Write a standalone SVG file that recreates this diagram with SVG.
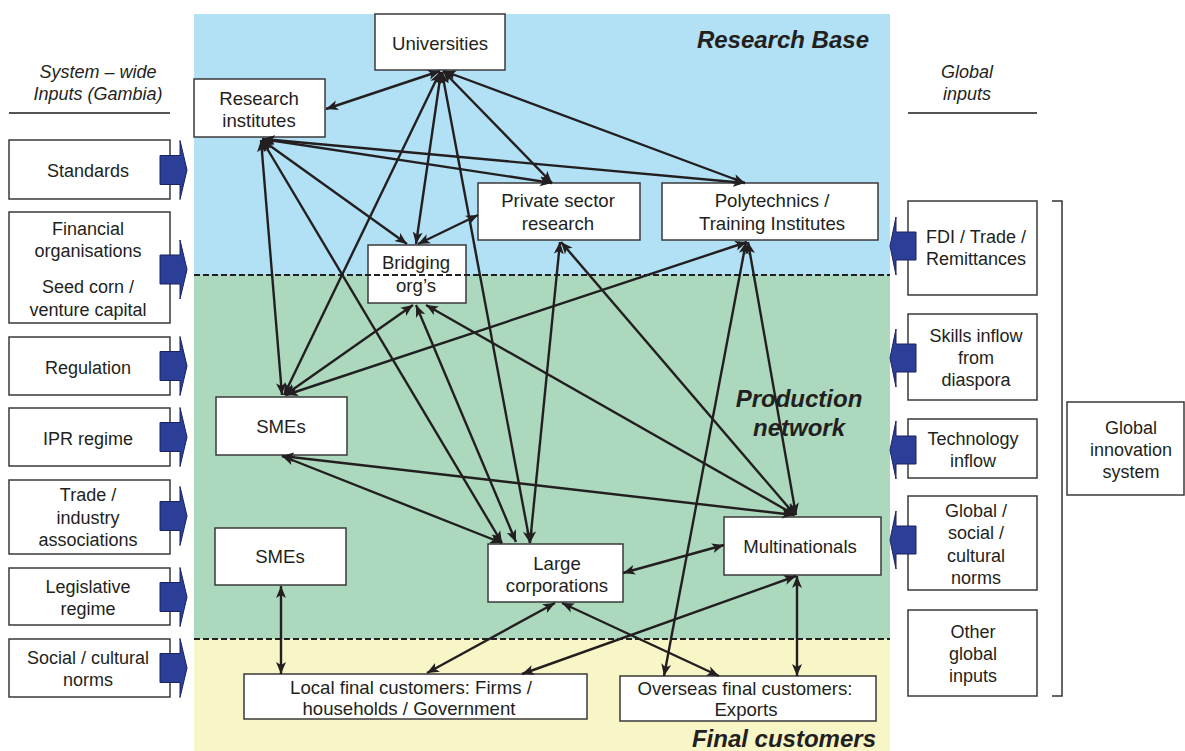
<svg xmlns="http://www.w3.org/2000/svg" width="1185" height="751" viewBox="0 0 1185 751">
<style>
text{font-family:"Liberation Sans",Arial,sans-serif;fill:#231f20;}
.t{font-size:18px;text-anchor:middle;}
#nodes .t{font-size:18.6px;}
.it{font-size:18px;font-style:italic;text-anchor:middle;}
.h{font-size:24px;font-style:italic;font-weight:bold;}
.box{fill:#fff;stroke:#3a3a3a;stroke-width:1.5;}
.blk{fill:#2b3f98;stroke:#1c2260;stroke-width:1;}
.c line{stroke:#231f20;stroke-width:2.4;marker-start:url(#ah);marker-end:url(#ah);}
.dash{stroke:#231f20;stroke-width:2;stroke-dasharray:6 3;}
</style>
<defs>
<marker id="ah" markerUnits="userSpaceOnUse" markerWidth="13" markerHeight="11" refX="12" refY="5" orient="auto-start-reverse" viewBox="0 0 13 10">
<path d="M0,0 L12,5 L0,10 L3,5 z" fill="#231f20"/>
</marker>
</defs>
<rect width="1185" height="751" fill="#fff"/>
<g id="bands">
<rect x="194" y="14" width="696" height="261" fill="#b2e1f6"/>
<rect x="194" y="275" width="696" height="364" fill="#acd9be"/>
<rect x="194" y="639" width="696" height="112" fill="#f8f6c7"/>
<text class="h" x="869" y="48" text-anchor="end">Research Base</text>
<text class="h" x="799" y="407" text-anchor="middle">Production</text>
<text class="h" x="799" y="436" text-anchor="middle">network</text>
<text class="h" x="876" y="747" text-anchor="end">Final customers</text>
</g>
<g id="headers">
<text class="it" x="98" y="78">System – wide</text>
<text class="it" x="98" y="100">Inputs (Gambia)</text>
<line x1="9" y1="113" x2="170" y2="113" stroke="#555" stroke-width="2"/>
<text class="it" x="967" y="78">Global</text>
<text class="it" x="967" y="100">inputs</text>
<line x1="908" y1="113" x2="1037" y2="113" stroke="#555" stroke-width="2"/>
</g>
<g id="left-inputs">
<g id="standards"><rect class="box" x="9" y="140" width="161" height="59"/><text class="t" x="88" y="177">Standards</text>
<polygon class="blk" points="160,155.5 180,155.5 180,140.5 187,170 180,199.5 180,184.5 160,184.5"/></g>
<g id="financial"><rect class="box" x="9" y="212" width="161" height="111"/><text class="t" x="88" y="235">Financial</text><text class="t" x="88" y="257">organisations</text><text class="t" x="88" y="293">Seed corn /</text><text class="t" x="88" y="316">venture capital</text>
<polygon class="blk" points="160,255 180,255 180,240 187,269.5 180,299 180,284 160,284"/></g>
<g id="regulation"><rect class="box" x="9" y="337" width="161" height="58"/><text class="t" x="88" y="374">Regulation</text>
<polygon class="blk" points="160,351.5 180,351.5 180,336.5 187,366 180,395.5 180,380.5 160,380.5"/></g>
<g id="ipr"><rect class="box" x="9" y="408" width="161" height="58"/><text class="t" x="88" y="445">IPR regime</text>
<polygon class="blk" points="160,422.5 180,422.5 180,407.5 187,437 180,466.5 180,451.5 160,451.5"/></g>
<g id="trade"><rect class="box" x="9" y="480" width="161" height="74"/><text class="t" x="88" y="501">Trade /</text><text class="t" x="88" y="524">industry</text><text class="t" x="88" y="546">associations</text>
<polygon class="blk" points="160,501.5 180,501.5 180,486.5 187,516 180,545.5 180,530.5 160,530.5"/></g>
<g id="legislative"><rect class="box" x="9" y="568" width="161" height="57"/><text class="t" x="88" y="593">Legislative</text><text class="t" x="88" y="615">regime</text>
<polygon class="blk" points="160,582.5 180,582.5 180,567.5 187,597 180,626.5 180,611.5 160,611.5"/></g>
<g id="social"><rect class="box" x="9" y="639" width="161" height="58"/><text class="t" x="88" y="664">Social / cultural</text><text class="t" x="88" y="686">norms</text>
<polygon class="blk" points="160,653.5 180,653.5 180,638.5 187,668 180,697.5 180,682.5 160,682.5"/></g>
</g>
<g id="right-inputs">
<g id="fdi"><rect class="box" x="908" y="201" width="129" height="94"/><text class="t" x="976" y="243">FDI / Trade /</text><text class="t" x="976" y="265">Remittances</text>
<polygon class="blk" points="916,232 896,232 896,217 890,246 896,275 896,260 916,260"/></g>
<g id="skills"><rect class="box" x="908" y="314" width="129" height="86"/><text class="t" x="976" y="342">Skills inflow</text><text class="t" x="976" y="364">from</text><text class="t" x="976" y="386">diaspora</text>
<polygon class="blk" points="916,344 896,344 896,329 890,358 896,387 896,372 916,372"/></g>
<g id="technology"><rect class="box" x="908" y="419" width="129" height="59"/><text class="t" x="973" y="445">Technology</text><text class="t" x="973" y="467">inflow</text>
<polygon class="blk" points="916,436 896,436 896,421 890,450 896,479 896,464 916,464"/></g>
<g id="global-norms"><rect class="box" x="908" y="496" width="129" height="94"/><text class="t" x="976" y="517">Global /</text><text class="t" x="976" y="539">social /</text><text class="t" x="976" y="562">cultural</text><text class="t" x="976" y="584">norms</text>
<polygon class="blk" points="916,526 896,526 896,511 890,540 896,569 896,554 916,554"/></g>
<g id="other"><rect class="box" x="908" y="610" width="129" height="86"/><text class="t" x="973" y="638">Other</text><text class="t" x="973" y="660">global</text><text class="t" x="973" y="682">inputs</text></g>
<path d="M1052,201 H1062 V696 H1052" fill="none" stroke="#333" stroke-width="1.5"/>
<g id="gis"><rect class="box" x="1067" y="402" width="117" height="93"/><text class="t" x="1131" y="434">Global</text><text class="t" x="1131" y="456">innovation</text><text class="t" x="1131" y="478">system</text></g>
</g>
<g id="nodes">
<g id="universities"><rect class="box" x="375" y="14" width="130" height="56"/><text class="t" x="440" y="50">Universities</text></g>
<g id="research-institutes"><rect class="box" x="194" y="79" width="131" height="58"/><text class="t" x="259" y="105">Research</text><text class="t" x="259" y="127">institutes</text></g>
<g id="private-sector"><rect class="box" x="478" y="183" width="162" height="57"/><text class="t" x="558" y="207">Private sector</text><text class="t" x="558" y="230">research</text></g>
<g id="polytechnics"><rect class="box" x="662" y="183" width="216" height="57"/><text class="t" x="772" y="207">Polytechnics /</text><text class="t" x="772" y="230">Training Institutes</text></g>
<g id="bridging"><rect class="box" x="368" y="245" width="98" height="58"/><text class="t" x="416" y="269">Bridging</text><text class="t" x="416" y="292">org’s</text></g>
<g id="smes-1"><rect class="box" x="216" y="397" width="131" height="58"/><text class="t" x="281" y="433">SMEs</text></g>
<g id="smes-2"><rect class="box" x="215" y="528" width="131" height="57"/><text class="t" x="280" y="563">SMEs</text></g>
<g id="large-corp"><rect class="box" x="488" y="544" width="135" height="58"/><text class="t" x="557" y="570">Large</text><text class="t" x="557" y="592">corporations</text></g>
<g id="multinationals"><rect class="box" x="724" y="517" width="157" height="58"/><text class="t" x="800" y="553">Multinationals</text></g>
<g id="local-customers"><rect class="box" x="244" y="674" width="343" height="45"/><text class="t" x="411" y="694">Local final customers: Firms /</text><text class="t" x="409" y="715">households / Government</text></g>
<g id="overseas-customers"><rect class="box" x="620" y="676" width="256" height="45"/><text class="t" x="745" y="695">Overseas final customers:</text><text class="t" x="746" y="716">Exports</text></g>
</g>
<g id="dividers">
<line class="dash" x1="194" y1="275" x2="890" y2="275"/>
<line class="dash" x1="194" y1="639" x2="890" y2="639"/>
</g>
<g id="connectors" class="c">
<line x1="440" y1="71" x2="326" y2="109"/>
<line x1="443" y1="71" x2="552" y2="183"/>
<line x1="444" y1="71" x2="745" y2="183"/>
<line x1="441" y1="72" x2="416" y2="244"/>
<line x1="440" y1="72" x2="284" y2="395"/>
<line x1="442" y1="72" x2="530" y2="543"/>
<line x1="262" y1="139" x2="552" y2="183"/>
<line x1="263" y1="139" x2="745" y2="183"/>
<line x1="262" y1="140" x2="407" y2="244"/>
<line x1="261" y1="140" x2="282" y2="395"/>
<line x1="262" y1="140" x2="502" y2="543"/>
<line x1="418" y1="244" x2="478" y2="215"/>
<line x1="413" y1="305" x2="285" y2="395"/>
<line x1="416" y1="305" x2="516" y2="542"/>
<line x1="426" y1="305" x2="795" y2="515"/>
<line x1="560" y1="242" x2="530" y2="543"/>
<line x1="561" y1="242" x2="795" y2="515"/>
<line x1="747" y1="242" x2="286" y2="395"/>
<line x1="748" y1="242" x2="796" y2="515"/>
<line x1="746" y1="242" x2="664" y2="676"/>
<line x1="282" y1="456" x2="502" y2="543"/>
<line x1="282" y1="456" x2="794" y2="515"/>
<line x1="623" y1="573" x2="724" y2="545"/>
<line x1="555" y1="603" x2="427" y2="673"/>
<line x1="562" y1="603" x2="719" y2="676"/>
<line x1="796" y1="576" x2="522" y2="674"/>
<line x1="797" y1="576" x2="797" y2="676"/>
<line x1="281" y1="586" x2="281" y2="674"/>
</g>
</svg>
